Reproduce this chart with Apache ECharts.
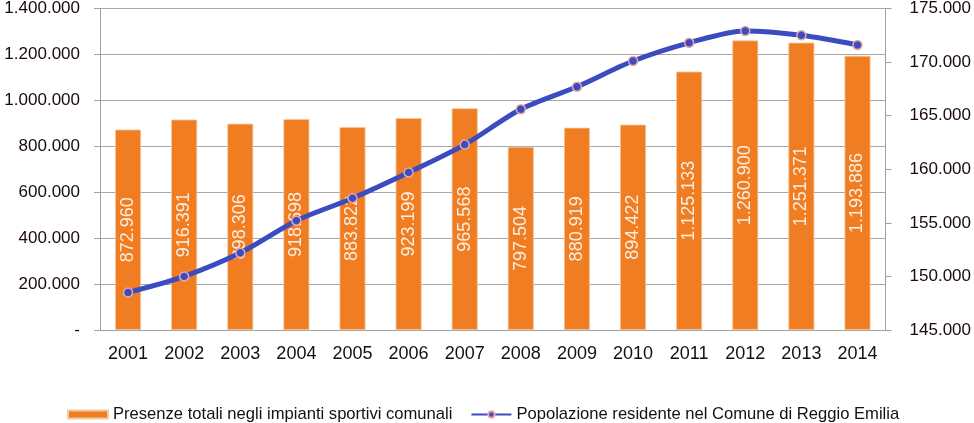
<!DOCTYPE html>
<html><head><meta charset="utf-8">
<script src="https://cdn.jsdelivr.net/npm/echarts@6/dist/echarts.min.js"></script>
<style>html,body{margin:0;padding:0;background:#fff}#c{width:974px;height:423px}</style>
</head><body><div id="c"></div>
<script>
const years = ['2001','2002','2003','2004','2005','2006','2007','2008','2009','2010','2011','2012','2013','2014'];
const presenze = [872960, 916391, 898306, 918698, 883822, 923199, 965568, 797504, 880919, 894422, 1125133, 1260900, 1251371, 1193886];
const popolazione = [148500, 150000, 152200, 155200, 157300, 159700, 162300, 165600, 167700, 170100, 171800, 172900, 172500, 171600];
const nameBar = 'Presenze totali negli impianti sportivi comunali';
const nameLine = 'Popolazione residente nel Comune di Reggio Emilia';

function fmt(v){ if(v===0) return '-'; return String(Math.round(v)).replace(/\B(?=(\d{3})+(?!\d))/g,'.'); }

const chart = echarts.init(document.getElementById('c'));
chart.setOption({
  animation:false,
  grid:{left:100,right:88,top:8,bottom:93,containLabel:false},
  legend:{
    left:62, top:401, itemGap:18, itemWidth:40, itemHeight:8,
    textStyle:{fontFamily:'Liberation Sans',fontSize:16.6,color:'#111'},
    data:[{name:nameBar,icon:'rect'},{name:nameLine}]
  },
  xAxis:{
    type:'category', data:years,
    axisLine:{lineStyle:{color:'#a0a0a0'}},
    axisTick:{length:6,lineStyle:{color:'#a0a0a0'}},
    axisLabel:{fontFamily:'Liberation Sans',fontSize:18,color:'#111',margin:15}
  },
  yAxis:[{
    type:'value', min:0, max:1400000, interval:200000,
    axisLine:{show:true,lineStyle:{color:'#a0a0a0'}},
    axisTick:{show:true,length:6,lineStyle:{color:'#a0a0a0'}},
    splitLine:{lineStyle:{color:'#a8a8a8'}},
    axisLabel:{formatter:fmt,fontFamily:'Liberation Sans',fontSize:17,color:'#1a0a0a',margin:20}
  },{
    type:'value', min:145000, max:175000, interval:5000, position:'right',
    axisLine:{show:true,lineStyle:{color:'#a0a0a0'}},
    axisTick:{show:true,length:6,lineStyle:{color:'#a0a0a0'}},
    splitLine:{show:false},
    axisLabel:{formatter:fmt,fontFamily:'Liberation Sans',fontSize:17,color:'#1a0a0a',margin:24}
  }],
  series:[{
    name:nameBar, type:'bar', data:presenze, barWidth:26, yAxisIndex:0,
    itemStyle:{color:'#f07d22',borderColor:'#f3c9a0',borderWidth:0.8},
    label:{show:true,position:'inside',rotate:90,formatter:p=>fmt(p.value),
      fontFamily:'Liberation Sans',fontSize:18,color:'#fbeee0'}
  },{
    name:nameLine, type:'line', data:popolazione, yAxisIndex:1, smooth:0.3,
    symbol:'circle', symbolSize:9,
    lineStyle:{color:'#3a4cbf',width:5},
    itemStyle:{color:'#3a4cbf',borderColor:'#e9a6a6',borderWidth:1.5},
    z:5
  }]
});
</script></body></html>
